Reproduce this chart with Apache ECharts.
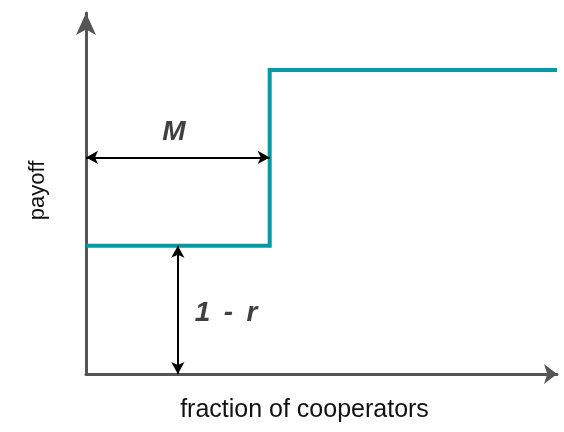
<!DOCTYPE html>
<html>
<head>
<meta charset="utf-8">
<script src="https://cdn.jsdelivr.net/npm/echarts@6/dist/echarts.min.js"></script>
<style>
  html, body { margin: 0; padding: 0; background: #fff; }
  #chart { width: 564px; height: 432px; }
</style>
</head>
<body>
<div id="chart"></div>
<script>
// payoff step (fraction of cooperators -> payoff), arbitrary units 0..100
const stepX = [0, 39, 39, 100];
const stepY = [35.5, 35.5, 84.2, 84.2];
// "M" span and "1 - r" height
const mSpan = [0, 39];
const mLevel = 60;
const rX = 19.5;
const rSpan = [0, 35.5];

const chart = echarts.init(document.getElementById('chart'));
const FONT = '"Liberation Sans", Arial, sans-serif';

chart.setOption({
    animation: false,
    grid: { left: 86, right: 7, top: 13, bottom: 58 },
    xAxis: {
        type: 'value', min: 0, max: 100,
        name: 'fraction of cooperators',
        nameLocation: 'middle', nameGap: 24,
        nameTextStyle: { fontFamily: FONT, fontSize: 25, color: '#111', padding: [0, 34, 0, 0] },
        axisLine: { show: true, symbol: ['none', 'arrow'], symbolSize: [15, 13],
            lineStyle: { color: '#555', width: 3 } },
        axisTick: { show: false }, axisLabel: { show: false }, splitLine: { show: false }
    },
    yAxis: {
        type: 'value', min: 0, max: 100,
        name: 'payoff',
        nameLocation: 'middle', nameGap: 37, nameRotate: 90,
        nameTextStyle: { fontFamily: FONT, fontSize: 22, color: '#111', padding: [0, 0, 0, 6] },
        axisLine: { show: true, symbol: ['none', 'arrow'], symbolSize: [15, 22],
            lineStyle: { color: '#555', width: 3 } },
        axisTick: { show: false }, axisLabel: { show: false }, splitLine: { show: false }
    },
    series: [{
        type: 'line',
        data: stepX.map((x, i) => [x, stepY[i]]),
        symbol: 'none',
        lineStyle: { color: '#0898a4', width: 4, join: 'miter' },
        markLine: {
            silent: true,
            symbol: ['arrow', 'arrow'],
            symbolSize: [10, 12],
            label: { show: false },
            lineStyle: { color: '#000', width: 2, type: 'solid' },
            data: [
                [{ coord: [mSpan[0], mLevel] }, { coord: [mSpan[1], mLevel] }],
                [{ coord: [rX, rSpan[0]] }, { coord: [rX, rSpan[1]] }]
            ]
        }
    }],
    graphic: [
        { type: 'text', x: 174, y: 132, style: { text: 'M', align: 'center', verticalAlign: 'middle',
            font: 'italic bold 28px ' + FONT, fill: '#404040' } },
        { type: 'text', x: 226, y: 313, style: { text: '1 \u2009- \u2009r', align: 'center', verticalAlign: 'middle',
            font: 'italic bold 28px ' + FONT, fill: '#404040' } }
    ]
});
</script>
</body>
</html>
